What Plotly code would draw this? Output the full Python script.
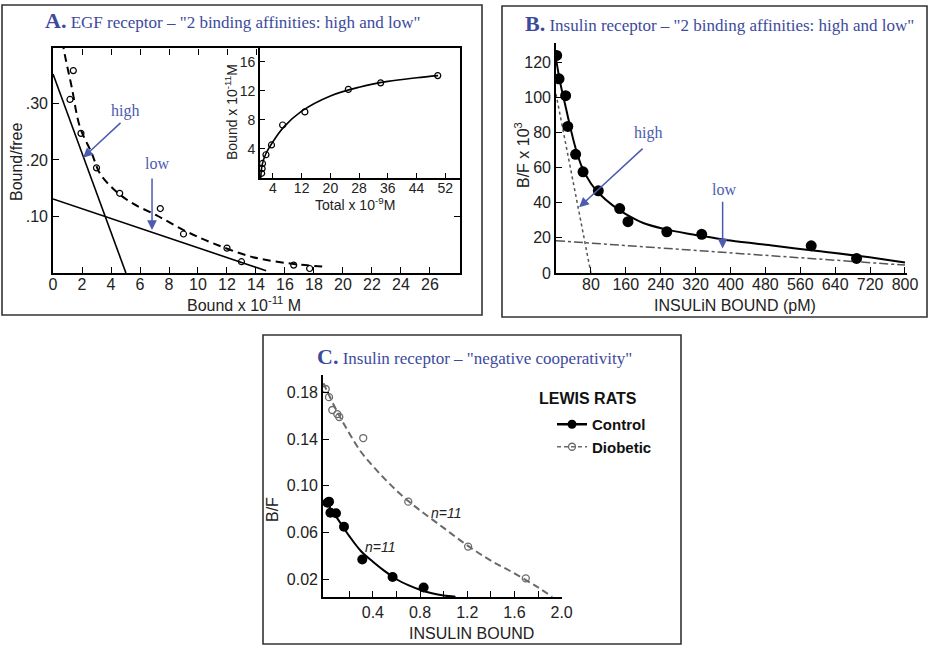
import plotly.graph_objects as go

W, H = 928, 646
def px(x): return x / W
def py(y): return 1 - y / H

# ---------------- Panel A data ----------------
a_x = [1.4, 1.17, 1.93, 3.0, 4.6, 7.4, 9.0, 12.0, 13.0, 16.6, 17.7]
a_y = [0.358, 0.307, 0.247, 0.186, 0.141, 0.114, 0.069, 0.044, 0.020, 0.014, 0.008]
a_fit_x = [0.65, 0.83, 1.29, 1.86, 2.67, 3.24, 4.28, 5.5, 7.15, 9.0, 11.0, 13.8, 16.6, 18.8]
a_fit_y = [0.41, 0.384, 0.329, 0.258, 0.212, 0.176, 0.146, 0.123, 0.102, 0.076, 0.053, 0.028, 0.016, 0.011]
a_high_x = [0, 5.03]
a_high_y = [0.352, 0.0]
a_low_x = [0, 14.7]
a_low_y = [0.131, 0.004]
a_xticks = list(range(0, 28, 2))
a_yticks = [0.1, 0.2, 0.3]
a_yticktext = [".10", ".20", ".30"]

# inset
in_x = [0.86, 1.0, 1.1, 2.06, 3.6, 6.7, 12.9, 25, 34, 49.9]
in_y = [0.65, 1.3, 2.0, 3.2, 4.55, 7.3, 9.1, 12.2, 13.1, 14.1]
in_fit_x = [0.6, 1.0, 2.0, 4.0, 7.0, 12.0, 20.0, 28.0, 36.0, 44.0, 50.0]
in_fit_y = [0.0, 1.8, 3.3, 5.0, 7.0, 9.2, 11.3, 12.5, 13.3, 13.8, 14.1]
in_xticks = [4, 12, 20, 28, 36, 44, 52]
in_yticks = [4, 8, 12, 16]

# ---------------- Panel B data ----------------
b_x = [1.5, 7, 22, 27, 45, 62, 97, 146, 165, 254, 334, 585, 689]
b_y = [123.9, 110.6, 101, 83.5, 67.6, 57.6, 46.8, 36.7, 29.2, 23.5, 22, 15.5, 8.3]
b_fit_x = [0, 10, 20, 30, 45, 60, 80, 100, 130, 160, 200, 250, 300, 350, 400, 500, 600, 700, 800]
b_fit_y = [122, 108, 97, 86, 71, 60, 51, 45, 38.5, 33.5, 28.5, 25, 22.5, 20.5, 18.5, 15.5, 12.5, 9.5, 6]
b_high_x = [0, 80]
b_high_y = [102, 0]
b_low_x = [0, 800]
b_low_y = [18.4, 4.5]
b_xticks = [80, 160, 240, 320, 400, 480, 560, 640, 720, 800]
b_yticks = [0, 20, 40, 60, 80, 100, 120]

# ---------------- Panel C data ----------------
c_ctrl_x = [0.015, 0.028, 0.04, 0.087, 0.155, 0.31, 0.567, 0.83]
c_ctrl_y = [0.0855, 0.0865, 0.077, 0.0766, 0.065, 0.037, 0.022, 0.013]
c_ctrl_fit_x = [0, 0.05, 0.1, 0.2, 0.3, 0.4, 0.5, 0.6, 0.7, 0.8, 0.9, 1.0, 1.1]
c_ctrl_fit_y = [0.088, 0.079, 0.072, 0.057, 0.044, 0.035, 0.027, 0.020, 0.015, 0.011, 0.008, 0.006, 0.005]
c_diab_x = [0.0, 0.028, 0.056, 0.098, 0.115, 0.318, 0.70, 1.207, 1.696]
c_diab_y = [0.183, 0.176, 0.165, 0.1615, 0.159, 0.141, 0.0865, 0.048, 0.0208]
c_diab_fit_x = [-0.02, 0.1, 0.2, 0.3, 0.4, 0.5, 0.6, 0.7, 0.8, 1.0, 1.2, 1.4, 1.6, 1.8, 1.92]
c_diab_fit_y = [0.188, 0.163, 0.145, 0.129, 0.117, 0.106, 0.096, 0.087, 0.079, 0.064, 0.049, 0.036, 0.025, 0.013, 0.005]
c_xticks = [0.2, 0.4, 0.6, 0.8, 1.0, 1.2, 1.4, 1.6, 1.8, 2.0]
c_xticktext = ["", "0.4", "", "0.8", "", "1.2", "", "1.6", "", "2.0"]
c_yticks = [0.02, 0.06, 0.10, 0.14, 0.18]
c_yticktext = ["0.02", "0.06", "0.10", "0.14", "0.18"]

SANS = "Liberation Sans, Arial, sans-serif"
SERIF = "Liberation Serif, Times New Roman, serif"
BLUE = "#3c4a9c"
ARROW = "#4c5bb0"
GRAY = "#6a6a6a"

fig = go.Figure()

# Panel A main
fig.add_trace(go.Scatter(x=a_high_x, y=a_high_y, mode="lines", line=dict(color="black", width=1.6),
                         xaxis="x", yaxis="y", showlegend=False))
fig.add_trace(go.Scatter(x=a_low_x, y=a_low_y, mode="lines", line=dict(color="black", width=1.6),
                         xaxis="x", yaxis="y", showlegend=False))
fig.add_trace(go.Scatter(x=a_fit_x, y=a_fit_y, mode="lines", line=dict(color="black", width=2, dash="8px,5px", shape="spline"),
                         xaxis="x", yaxis="y", showlegend=False))
fig.add_trace(go.Scatter(x=a_x, y=a_y, mode="markers",
                         marker=dict(symbol="circle-open", size=6, color="black", line=dict(width=1.2)),
                         xaxis="x", yaxis="y", showlegend=False))
# inset
fig.add_trace(go.Scatter(x=in_fit_x, y=in_fit_y, mode="lines", line=dict(color="black", width=1.6, shape="spline"),
                         xaxis="x2", yaxis="y2", showlegend=False))
fig.add_trace(go.Scatter(x=in_x, y=in_y, mode="markers",
                         marker=dict(symbol="circle-open", size=6, color="black", line=dict(width=1.2)),
                         xaxis="x2", yaxis="y2", showlegend=False))
# dummy traces for extra tick axes
fig.add_trace(go.Scatter(x=[None], y=[None], xaxis="x5", yaxis="y", showlegend=False, hoverinfo="skip"))
fig.add_trace(go.Scatter(x=[None], y=[None], xaxis="x", yaxis="y5", showlegend=False, hoverinfo="skip"))

# Panel B
fig.add_trace(go.Scatter(x=b_high_x, y=b_high_y, mode="lines", line=dict(color="#555", width=1.5, dash="dot"),
                         xaxis="x3", yaxis="y3", showlegend=False))
fig.add_trace(go.Scatter(x=b_low_x, y=b_low_y, mode="lines", line=dict(color="#555", width=1.5, dash="dashdot"),
                         xaxis="x3", yaxis="y3", showlegend=False))
fig.add_trace(go.Scatter(x=b_fit_x, y=b_fit_y, mode="lines", line=dict(color="black", width=2, shape="spline"),
                         xaxis="x3", yaxis="y3", showlegend=False))
fig.add_trace(go.Scatter(x=b_x, y=b_y, mode="markers", marker=dict(size=11, color="black"),
                         xaxis="x3", yaxis="y3", showlegend=False))

# Panel C
fig.add_trace(go.Scatter(x=c_diab_fit_x, y=c_diab_fit_y, mode="lines",
                         line=dict(color=GRAY, width=2, dash="7px,4px", shape="spline"),
                         xaxis="x4", yaxis="y4", showlegend=False))
fig.add_trace(go.Scatter(x=c_diab_x, y=c_diab_y, mode="markers",
                         marker=dict(symbol="circle-open", size=7, color=GRAY, line=dict(width=1.3)),
                         xaxis="x4", yaxis="y4", showlegend=False))
fig.add_trace(go.Scatter(x=c_ctrl_fit_x, y=c_ctrl_fit_y, mode="lines",
                         line=dict(color="black", width=2, shape="spline"),
                         xaxis="x4", yaxis="y4", showlegend=False))
fig.add_trace(go.Scatter(x=c_ctrl_x, y=c_ctrl_y, mode="markers", marker=dict(size=10, color="black"),
                         xaxis="x4", yaxis="y4", showlegend=False))
# legend entries
fig.add_trace(go.Scatter(x=[None], y=[None], mode="lines+markers", name="<b>Control</b>",
                         line=dict(color="black", width=2.5), marker=dict(size=9, color="black"),
                         xaxis="x4", yaxis="y4"))
fig.add_trace(go.Scatter(x=[None], y=[None], mode="lines+markers", name="<b>Diobetic</b>",
                         line=dict(color=GRAY, width=1.5, dash="4px,3px"),
                         marker=dict(symbol="circle-open", size=7, color=GRAY, line=dict(width=1.3)),
                         xaxis="x4", yaxis="y4"))

axcommon = dict(showgrid=False, zeroline=False, showline=True, linecolor="black", linewidth=1.6,
                ticks="inside", tickcolor="black", tickwidth=1.3, ticklen=6,
                tickfont=dict(family=SANS, size=16, color="#222"))

fig.update_layout(
    width=W, height=H,
    margin=dict(l=0, r=0, t=0, b=0, autoexpand=False),
    paper_bgcolor="white", plot_bgcolor="rgba(0,0,0,0)",
    xaxis=dict(**axcommon, domain=[px(53), px(460)], range=[0, 28.07], anchor="y", mirror=True,
               tickmode="array", tickvals=a_xticks, ticklabelstandoff=-4),
    yaxis=dict(**axcommon, domain=[py(273), py(48)], range=[0, 0.398], anchor="x", mirror=True,
               tickmode="array", tickvals=a_yticks, ticktext=a_yticktext),
    xaxis5=dict(showgrid=False, zeroline=False, showline=False, domain=[px(53), px(260)],
                range=[0, 207 / 14.5], anchor="free", position=py(48), side="top",
                ticks="inside", tickcolor="black", tickwidth=1.3, ticklen=6, showticklabels=False,
                tickmode="array", tickvals=a_xticks[:8]),
    yaxis5=dict(showgrid=False, zeroline=False, showline=False, domain=[py(273), py(178)],
                range=[0, 95 / 565.0], anchor="free", position=px(460), side="right",
                ticks="inside", tickcolor="black", tickwidth=1.3, ticklen=6, showticklabels=False,
                tickmode="array", tickvals=[0.1]),
    xaxis2=dict(**{**axcommon, "tickfont": dict(family=SANS, size=14, color="#222"), "ticklen": 5},
                domain=[px(260), px(460)], range=[0.4, 56.1], anchor="y2",
                tickmode="array", tickvals=in_xticks, ticklabelstandoff=-4),
    yaxis2=dict(**{**axcommon, "tickfont": dict(family=SANS, size=14, color="#222"), "ticklen": 5},
                domain=[py(178), py(48)], range=[0, 17.9], anchor="x2",
                tickmode="array", tickvals=in_yticks),
    xaxis3=dict(**axcommon, domain=[px(556), px(907)], range=[0, 804.6], anchor="y3",
                tickmode="array", tickvals=b_xticks, ticklabelstandoff=-4),
    yaxis3=dict(**axcommon, domain=[py(273), py(43)], range=[0, 131], anchor="x3",
                tickmode="array", tickvals=b_yticks),
    xaxis4=dict(**axcommon, domain=[px(323), px(562)], range=[-0.023, 2.003], anchor="y4",
                tickmode="array", tickvals=c_xticks, ticktext=c_xticktext),
    yaxis4=dict(**axcommon, domain=[py(597), py(375)], range=[0.0048, 0.195], anchor="x4",
                tickmode="array", tickvals=c_yticks, ticktext=c_yticktext),
    showlegend=True,
    legend=dict(x=px(552), y=py(408), xanchor="left", yanchor="top", bgcolor="rgba(0,0,0,0)",
                font=dict(family=SANS, size=15, color="#111"), tracegroupgap=0, itemwidth=30),
)

# panel boxes
for (x0, y0, x1, y1) in [(2, 5, 482, 315), (502, 6, 927, 317), (263, 335, 681, 644)]:
    fig.add_shape(type="rect", xref="paper", yref="paper", x0=px(x0), x1=px(x1), y0=py(y1), y1=py(y0),
                  line=dict(color="#333", width=1.6), fillcolor="rgba(0,0,0,0)")

ann = []
def A(**k):
    d = dict(showarrow=False, xref="paper", yref="paper", xanchor="center", yanchor="middle")
    d.update(k)
    ann.append(d)

# titles
A(x=px(232), y=py(20), text="<b><span style='font-size:22px'>A.</span></b> EGF receptor – \"2 binding affinities: high and low\"",
  font=dict(family=SERIF, size=17, color=BLUE))
A(x=px(719), y=py(24), text="<b><span style='font-size:22px'>B.</span></b> Insulin receptor – \"2 binding affinities: high and low\"",
  font=dict(family=SERIF, size=17, color=BLUE))
A(x=px(474), y=py(356), text="<b><span style='font-size:22px'>C.</span></b> Insulin receptor – \"negative cooperativity\"",
  font=dict(family=SERIF, size=17, color=BLUE))

# axis titles
A(x=px(244), y=py(304), text="Bound x 10<sup>-11</sup> M", font=dict(family=SANS, size=16, color="#222"))
A(x=px(16), y=py(162), text="Bound/free", textangle=-90, font=dict(family=SANS, size=16, color="#222"))
A(x=px(231), y=py(112), text="Bound x 10<sup>-11</sup>M", textangle=-90, font=dict(family=SANS, size=14, color="#222"))
A(x=px(355), y=py(204), text="Total x 10<sup>-9</sup>M", font=dict(family=SANS, size=14, color="#222"))
A(x=px(735), y=py(305), text="INSULiN BOUND (pM)", font=dict(family=SANS, size=16, color="#222"))
A(x=px(522), y=py(155), text="B/F x 10<sup>3</sup>", textangle=-90, font=dict(family=SANS, size=16, color="#222"))
A(x=px(472), y=py(633), text="INSULIN BOUND", font=dict(family=SANS, size=16, color="#222"))
A(x=px(272), y=py(510), text="B/F", textangle=-90, font=dict(family=SANS, size=16, color="#222"))

# legend heading and n labels
A(x=px(588), y=py(398), text="<b>LEWIS RATS</b>", font=dict(family=SANS, size=16, color="#111"))
A(x=1.02, y=0.077, xref="x4", yref="y4", text="<i>n=11</i>", font=dict(family=SANS, size=14, color="#222"))
A(x=0.465, y=0.048, xref="x4", yref="y4", text="<i>n=11</i>", font=dict(family=SANS, size=14, color="#222"))

# high/low labels
A(x=4.97, y=0.286, xref="x", yref="y", text="high", font=dict(family=SERIF, size=16, color=ARROW))
A(x=7.2, y=0.194, xref="x", yref="y", text="low", font=dict(family=SERIF, size=16, color=ARROW))
A(x=212, y=79.5, xref="x3", yref="y3", text="high", font=dict(family=SERIF, size=16, color=ARROW))
A(x=384, y=47.6, xref="x3", yref="y3", text="low", font=dict(family=SERIF, size=16, color=ARROW))

def arrow(xr, yr, x0, y0, x1, y1):
    ann.append(dict(x=x1, y=y1, ax=x0, ay=y0, xref=xr, yref=yr, axref=xr, ayref=yr, text="",
                    showarrow=True, arrowhead=2, arrowsize=1.3, arrowwidth=1.5, arrowcolor=ARROW))

arrow("x", "y", 4.76, 0.268, 2.07, 0.204)
arrow("x", "y", 6.83, 0.170, 6.83, 0.076)
arrow("x3", "y3", 202, 71.6, 53, 37.5)
arrow("x3", "y3", 382, 41.5, 382, 14)

fig.update_layout(annotations=ann)
fig.write_html("out.html")
